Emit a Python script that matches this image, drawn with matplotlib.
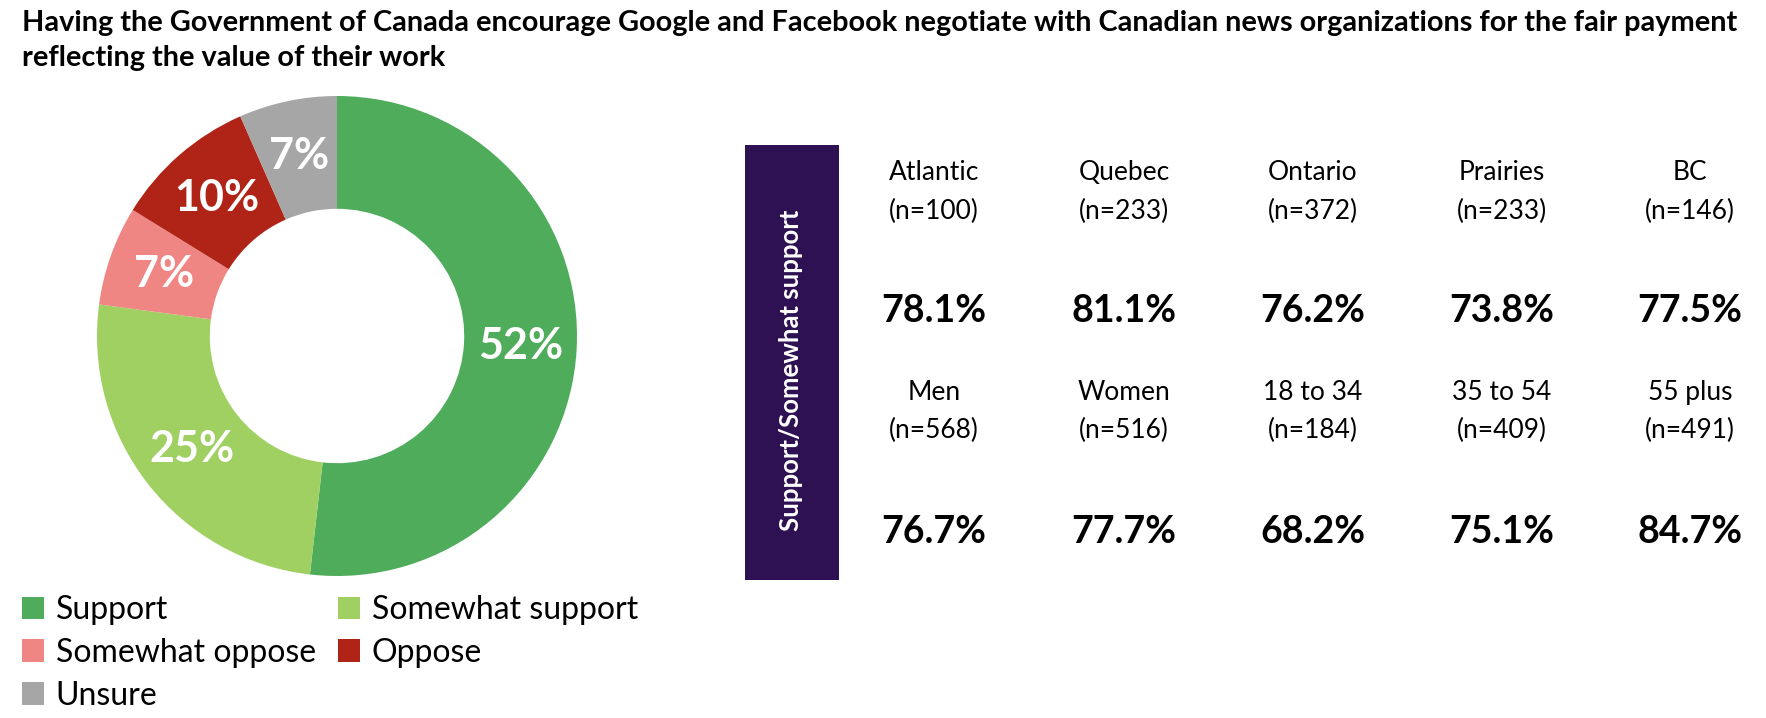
import matplotlib
matplotlib.use("Agg")
import matplotlib.pyplot as plt
from matplotlib.patches import Rectangle

plt.rcParams['font.family'] = ['Lato', 'DejaVu Sans']

# donut data (share of respondents, %)
answers = ["Support", "Somewhat support", "Somewhat oppose", "Oppose", "Unsure"]
shares = [51.8, 25.3, 6.7, 9.6, 6.6]
colors = ["#4EAC5B", "#A0D062", "#EF8683", "#B02418", "#A6A6A6"]

# support/somewhat support by group
groups_top = ["Atlantic", "Quebec", "Ontario", "Prairies", "BC"]
n_top = [100, 233, 372, 233, 146]
pct_top = [78.1, 81.1, 76.2, 73.8, 77.5]
groups_bottom = ["Men", "Women", "18 to 34", "35 to 54", "55 plus"]
n_bottom = [568, 516, 184, 409, 491]
pct_bottom = [76.7, 77.7, 68.2, 75.1, 84.7]

title = ("Having the Government of Canada encourage Google and Facebook negotiate with Canadian news organizations for the fair payment\n"
         "reflecting the value of their work")

W, H = 1766, 718
fig = plt.figure(figsize=(W / 100, H / 100), dpi=100)

def fx(px):
    return px / W

def fy(py):
    return 1 - py / H

fig.text(fx(22), fy(10), title, ha='left', va='top', fontsize=20.75,
         fontweight='bold', linespacing=1.42)

# donut
cx, cy, r = 337, 336, 240
ax = fig.add_axes([fx(cx - r), fy(cy + r), 2 * r / W, 2 * r / H])
wedges, _, autotexts = ax.pie(shares, colors=colors, startangle=90, counterclock=False,
                              radius=1, wedgeprops=dict(width=0.47, linewidth=0),
                              autopct='%.0f%%', pctdistance=0.765)
for t in autotexts:
    t.set_color('white')
    t.set_fontsize(31)
    t.set_fontweight('bold')
ax.set_xlim(-1, 1)
ax.set_ylim(-1, 1)
ax.axis('off')

order = [0, 2, 4, 1, 3]
fig.legend([wedges[i] for i in order], [answers[i] for i in order],
           loc='upper left', bbox_to_anchor=(fx(22), fy(595)), ncol=2,
           frameon=False, fontsize=23, handlelength=0.7, handleheight=0.7,
           handletextpad=0.35, columnspacing=0.7, labelspacing=0.4,
           borderaxespad=0, borderpad=0)

# purple side panel
fig.patches.append(Rectangle((fx(745), fy(580)), fx(839) - fx(745), fy(145) - fy(580),
                             transform=fig.transFigure, facecolor="#2D1152",
                             edgecolor='none'))
fig.text(fx(791), fy(370), "Support/Somewhat support", rotation=90, ha='center',
         va='center', color='white', fontsize=18.5, fontweight='bold')

col_x = [934, 1124, 1313, 1502, 1690]
rows = [(groups_top, n_top, pct_top, 173, 211, 311),
        (groups_bottom, n_bottom, pct_bottom, 393, 430, 532)]
for names, ns, pcts, y_name, y_n, y_val in rows:
    for x, name, n, p in zip(col_x, names, ns, pcts):
        fig.text(fx(x), fy(y_name), name, ha='center', va='center', fontsize=19)
        fig.text(fx(x), fy(y_n), f"(n={n})", ha='center', va='center', fontsize=19)
        fig.text(fx(x), fy(y_val), f"{p:.1f}%", ha='center', va='center',
                 fontsize=27, fontweight='bold')

fig.savefig("out.png", dpi=100)
